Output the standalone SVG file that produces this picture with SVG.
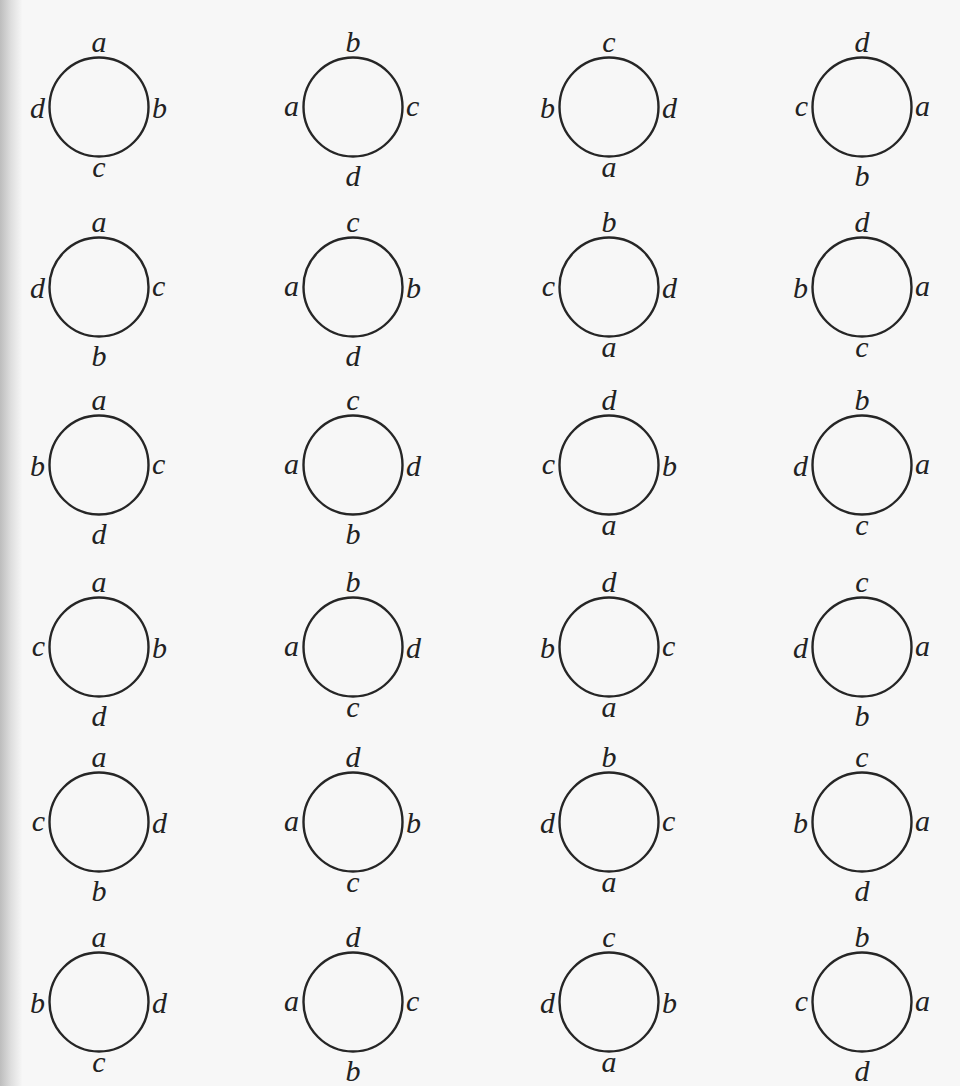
<svg xmlns="http://www.w3.org/2000/svg" width="960" height="1086" viewBox="0 0 960 1086">
<style>
.ring{fill:none;stroke:#262626;stroke-width:2.4}
text{font-family:"Liberation Serif","Times New Roman",serif;font-style:italic;font-size:30px;fill:#222}
.m{text-anchor:middle}
.e{text-anchor:end}
.s{text-anchor:start}
</style>
<defs>
<linearGradient id="bind" x1="0" y1="0" x2="1" y2="0">
<stop offset="0" stop-color="#bdbdbd"/>
<stop offset="0.5" stop-color="#dedede"/>
<stop offset="1" stop-color="#f6f6f6"/>
</linearGradient>
</defs>
<rect x="0" y="0" width="960" height="1086" fill="#f7f7f7"/>
<rect x="0" y="0" width="22" height="1086" fill="url(#bind)"/>
<g id="connectors"/>
<!-- Row 1 -->
<g id="n1-1" transform="translate(99,107)"><circle class="ring" r="49.5"/><text class="m" y="-55">a</text><text class="e" x="-54" y="11">d</text><text class="s" x="53" y="11">b</text><text class="m" y="70">c</text></g>
<g id="n1-2" transform="translate(353,107)"><circle class="ring" r="49.5"/><text class="m" y="-55">b</text><text class="e" x="-54" y="9">a</text><text class="s" x="53" y="9">c</text><text class="m" y="79">d</text></g>
<g id="n1-3" transform="translate(609,107)"><circle class="ring" r="49.5"/><text class="m" y="-55">c</text><text class="e" x="-54" y="11">b</text><text class="s" x="53" y="11">d</text><text class="m" y="70">a</text></g>
<g id="n1-4" transform="translate(862,107)"><circle class="ring" r="49.5"/><text class="m" y="-55">d</text><text class="e" x="-54" y="9">c</text><text class="s" x="53" y="9">a</text><text class="m" y="79">b</text></g>
<!-- Row 2 -->
<g id="n2-1" transform="translate(99,287)"><circle class="ring" r="49.5"/><text class="m" y="-55">a</text><text class="e" x="-54" y="11">d</text><text class="s" x="53" y="9">c</text><text class="m" y="79">b</text></g>
<g id="n2-2" transform="translate(353,287)"><circle class="ring" r="49.5"/><text class="m" y="-55">c</text><text class="e" x="-54" y="9">a</text><text class="s" x="53" y="11">b</text><text class="m" y="79">d</text></g>
<g id="n2-3" transform="translate(609,287)"><circle class="ring" r="49.5"/><text class="m" y="-55">b</text><text class="e" x="-54" y="9">c</text><text class="s" x="53" y="11">d</text><text class="m" y="70">a</text></g>
<g id="n2-4" transform="translate(862,287)"><circle class="ring" r="49.5"/><text class="m" y="-55">d</text><text class="e" x="-54" y="11">b</text><text class="s" x="53" y="9">a</text><text class="m" y="70">c</text></g>
<!-- Row 3 -->
<g id="n3-1" transform="translate(99,465)"><circle class="ring" r="49.5"/><text class="m" y="-55">a</text><text class="e" x="-54" y="11">b</text><text class="s" x="53" y="9">c</text><text class="m" y="79">d</text></g>
<g id="n3-2" transform="translate(353,465)"><circle class="ring" r="49.5"/><text class="m" y="-55">c</text><text class="e" x="-54" y="9">a</text><text class="s" x="53" y="11">d</text><text class="m" y="79">b</text></g>
<g id="n3-3" transform="translate(609,465)"><circle class="ring" r="49.5"/><text class="m" y="-55">d</text><text class="e" x="-54" y="9">c</text><text class="s" x="53" y="11">b</text><text class="m" y="70">a</text></g>
<g id="n3-4" transform="translate(862,465)"><circle class="ring" r="49.5"/><text class="m" y="-55">b</text><text class="e" x="-54" y="11">d</text><text class="s" x="53" y="9">a</text><text class="m" y="70">c</text></g>
<!-- Row 4 -->
<g id="n4-1" transform="translate(99,647)"><circle class="ring" r="49.5"/><text class="m" y="-55">a</text><text class="e" x="-54" y="9">c</text><text class="s" x="53" y="11">b</text><text class="m" y="79">d</text></g>
<g id="n4-2" transform="translate(353,647)"><circle class="ring" r="49.5"/><text class="m" y="-55">b</text><text class="e" x="-54" y="9">a</text><text class="s" x="53" y="11">d</text><text class="m" y="70">c</text></g>
<g id="n4-3" transform="translate(609,647)"><circle class="ring" r="49.5"/><text class="m" y="-55">d</text><text class="e" x="-54" y="11">b</text><text class="s" x="53" y="9">c</text><text class="m" y="70">a</text></g>
<g id="n4-4" transform="translate(862,647)"><circle class="ring" r="49.5"/><text class="m" y="-55">c</text><text class="e" x="-54" y="11">d</text><text class="s" x="53" y="9">a</text><text class="m" y="79">b</text></g>
<!-- Row 5 -->
<g id="n5-1" transform="translate(99,822)"><circle class="ring" r="49.5"/><text class="m" y="-55">a</text><text class="e" x="-54" y="9">c</text><text class="s" x="53" y="11">d</text><text class="m" y="79">b</text></g>
<g id="n5-2" transform="translate(353,822)"><circle class="ring" r="49.5"/><text class="m" y="-55">d</text><text class="e" x="-54" y="9">a</text><text class="s" x="53" y="11">b</text><text class="m" y="70">c</text></g>
<g id="n5-3" transform="translate(609,822)"><circle class="ring" r="49.5"/><text class="m" y="-55">b</text><text class="e" x="-54" y="11">d</text><text class="s" x="53" y="9">c</text><text class="m" y="70">a</text></g>
<g id="n5-4" transform="translate(862,822)"><circle class="ring" r="49.5"/><text class="m" y="-55">c</text><text class="e" x="-54" y="11">b</text><text class="s" x="53" y="9">a</text><text class="m" y="79">d</text></g>
<!-- Row 6 -->
<g id="n6-1" transform="translate(99,1002)"><circle class="ring" r="49.5"/><text class="m" y="-55">a</text><text class="e" x="-54" y="11">b</text><text class="s" x="53" y="11">d</text><text class="m" y="70">c</text></g>
<g id="n6-2" transform="translate(353,1002)"><circle class="ring" r="49.5"/><text class="m" y="-55">d</text><text class="e" x="-54" y="9">a</text><text class="s" x="53" y="9">c</text><text class="m" y="79">b</text></g>
<g id="n6-3" transform="translate(609,1002)"><circle class="ring" r="49.5"/><text class="m" y="-55">c</text><text class="e" x="-54" y="11">d</text><text class="s" x="53" y="11">b</text><text class="m" y="70">a</text></g>
<g id="n6-4" transform="translate(862,1002)"><circle class="ring" r="49.5"/><text class="m" y="-55">b</text><text class="e" x="-54" y="9">c</text><text class="s" x="53" y="9">a</text><text class="m" y="79">d</text></g>
</svg>
